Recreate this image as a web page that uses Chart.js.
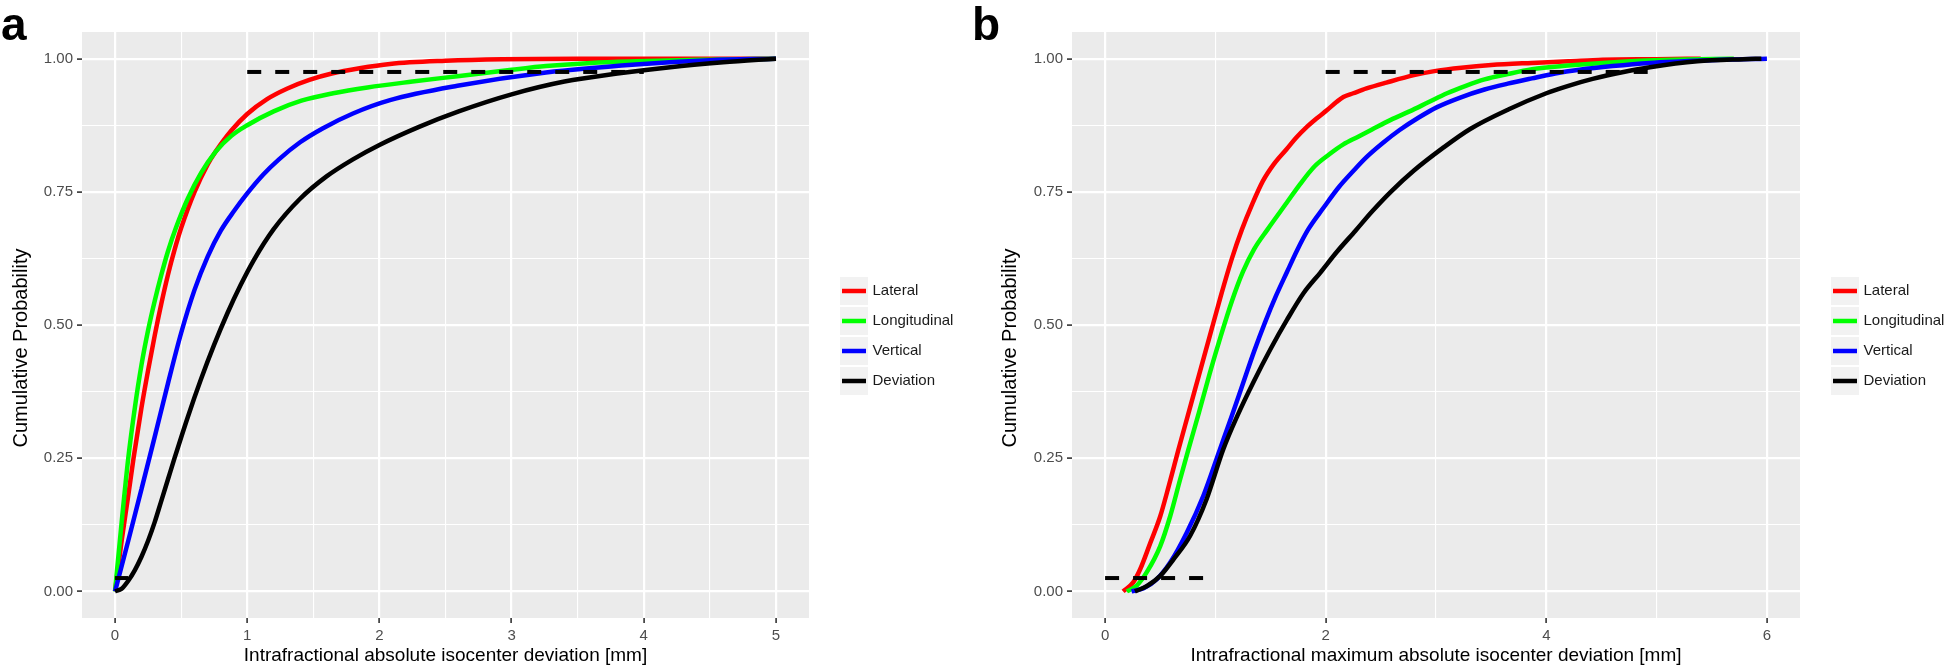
<!DOCTYPE html>
<html>
<head>
<meta charset="utf-8">
<script src="https://cdn.jsdelivr.net/npm/chart.js@4.4.1/dist/chart.umd.min.js"></script>
<style>
  html, body { margin: 0; padding: 0; background: #fff; }
  body { width: 1946px; height: 668px; position: relative; overflow: hidden; font-family: "Liberation Sans", Arial, sans-serif; }
  .panel { position: absolute; top: 0; height: 668px; }
  .tag { position: absolute; font-weight: bold; font-size: 46px; line-height: 1; color: #000; }
</style>
</head>
<body>
<div class="panel" style="left:0;width:960px"><canvas id="chartA"></canvas></div>
<div class="panel" style="left:960px;width:986px"><canvas id="chartB"></canvas></div>
<div class="tag" style="left:1px;top:1px">a</div>
<div class="tag" style="left:972px;top:1px">b</div>

<script>
const seriesNames = ["Lateral", "Longitudinal", "Vertical", "Deviation"];
const seriesColors = ["#ff0000", "#00ff00", "#0000ff", "#000000"];

// panel a - absolute deviation
const latA_x = [0, 0.05, 0.1, 0.14, 0.2, 0.25, 0.3, 0.35, 0.4, 0.45, 0.5, 0.6, 0.7, 0.76, 0.88, 1.0, 1.15, 1.3, 1.47, 1.64, 1.85, 2.08, 2.5, 2.93, 3.5, 5.0];
const latA_y = [0, 0.095, 0.18, 0.25, 0.345, 0.415, 0.48, 0.54, 0.594, 0.641, 0.682, 0.749, 0.801, 0.825, 0.865, 0.896, 0.924, 0.9435, 0.96, 0.972, 0.982, 0.99, 0.996, 0.999, 1, 1];
const lonA_x = [0, 0.05, 0.1, 0.15, 0.2, 0.25, 0.3, 0.35, 0.4, 0.46, 0.55, 0.65, 0.76, 0.88, 1.0, 1.2, 1.41, 1.65, 1.91, 2.25, 2.59, 3.0, 3.26, 3.6, 3.94, 4.5, 5.0];
const lonA_y = [0, 0.13, 0.25, 0.345, 0.425, 0.49, 0.545, 0.594, 0.638, 0.682, 0.737, 0.785, 0.825, 0.855, 0.875, 0.901, 0.921, 0.935, 0.946, 0.957, 0.967, 0.979, 0.986, 0.992, 0.995, 0.998, 1];
const verA_x = [0, 0.1, 0.2, 0.3, 0.4, 0.5, 0.6, 0.7, 0.8, 0.9, 1.0, 1.12, 1.24, 1.4, 1.57, 1.8, 2.08, 2.59, 3.26, 3.94, 4.5, 5.0];
const verA_y = [0, 0.095, 0.192, 0.29, 0.39, 0.485, 0.565, 0.628, 0.677, 0.714, 0.747, 0.782, 0.811, 0.843, 0.869, 0.897, 0.922, 0.949, 0.974, 0.989, 0.997, 1];
const devA_x = [0, 0.05, 0.1, 0.15, 0.2, 0.25, 0.3, 0.35, 0.4, 0.45, 0.55, 0.65, 0.75, 0.85, 0.95, 1.05, 1.2, 1.4, 1.6, 1.8, 2.0, 2.3, 2.6, 3.0, 3.4, 3.8, 4.2, 4.6, 5.0];
const devA_y = [0, 0.005, 0.02, 0.04, 0.065, 0.095, 0.13, 0.17, 0.21, 0.25, 0.327, 0.398, 0.463, 0.522, 0.575, 0.622, 0.68, 0.737, 0.779, 0.811, 0.838, 0.872, 0.901, 0.933, 0.957, 0.972, 0.984, 0.993, 1];
const refHiA_x = [1, 4];
const refLoA_x = [0, 0.1];

// panel b - maximum absolute deviation
const latB_x = [0.163, 0.255, 0.317, 0.41, 0.50, 0.58, 0.665, 0.75, 0.85, 0.95, 1.05, 1.15, 1.24, 1.33, 1.43, 1.53, 1.645, 1.73, 1.82, 1.92, 2.01, 2.1, 2.16, 2.25, 2.37, 2.55, 2.8, 3.0, 3.23, 3.5, 3.87, 4.2, 4.51, 5.0, 5.4];
const latB_y = [0, 0.017, 0.041, 0.091, 0.141, 0.20, 0.266, 0.33, 0.405, 0.48, 0.555, 0.625, 0.679, 0.725, 0.77, 0.802, 0.83, 0.851, 0.87, 0.888, 0.903, 0.919, 0.928, 0.935, 0.944, 0.955, 0.969, 0.977, 0.983, 0.988, 0.992, 0.995, 0.998, 0.999, 1];
const lonB_x = [0.197, 0.287, 0.378, 0.50, 0.59, 0.68, 0.755, 0.85, 0.95, 1.05, 1.15, 1.25, 1.35, 1.475, 1.645, 1.77, 1.90, 2.03, 2.16, 2.29, 2.42, 2.59, 2.76, 2.93, 3.10, 3.27, 3.44, 3.65, 3.87, 4.2, 4.51, 4.85, 5.15, 5.7];
const lonB_y = [0, 0.011, 0.036, 0.085, 0.141, 0.21, 0.266, 0.335, 0.41, 0.48, 0.545, 0.60, 0.642, 0.68, 0.729, 0.765, 0.798, 0.82, 0.839, 0.853, 0.867, 0.885, 0.901, 0.918, 0.935, 0.949, 0.961, 0.971, 0.98, 0.987, 0.992, 0.996, 0.998, 1];
const verB_x = [0.24, 0.35, 0.47, 0.59, 0.74, 0.89, 1.04, 1.15, 1.25, 1.35, 1.45, 1.55, 1.65, 1.74, 1.84, 1.98, 2.12, 2.25, 2.37, 2.52, 2.67, 2.84, 3.01, 3.22, 3.44, 3.65, 3.87, 4.08, 4.30, 4.6, 4.94, 5.25, 5.58, 6.0];
const verB_y = [0, 0.006, 0.023, 0.054, 0.11, 0.179, 0.266, 0.33, 0.39, 0.45, 0.505, 0.555, 0.60, 0.64, 0.679, 0.72, 0.759, 0.789, 0.815, 0.842, 0.866, 0.889, 0.909, 0.927, 0.942, 0.953, 0.963, 0.972, 0.979, 0.986, 0.992, 0.995, 0.998, 1];
const devB_x = [0.27, 0.38, 0.50, 0.62, 0.77, 0.92, 1.07, 1.2, 1.35, 1.5, 1.65, 1.8, 1.95, 2.1, 2.27, 2.42, 2.59, 2.80, 3.06, 3.31, 3.66, 4.0, 4.2, 4.42, 4.7, 4.94, 5.37, 5.79, 5.95];
const devB_y = [0, 0.01, 0.029, 0.06, 0.104, 0.173, 0.266, 0.33, 0.395, 0.455, 0.51, 0.56, 0.598, 0.637, 0.677, 0.713, 0.75, 0.79, 0.832, 0.868, 0.905, 0.935, 0.949, 0.962, 0.975, 0.984, 0.995, 0.999, 1];
const refHiB_x = [2, 4.95];
const refLoB_x = [0, 0.9];

const refHi_y = [0.975, 0.975];
const refLo_y = [0.025, 0.025];

// axes
const xMajorA = [0, 1, 2, 3, 4, 5];
const xMinorA = [0.5, 1.5, 2.5, 3.5, 4.5];
const xMajorB = [0, 2, 4, 6];
const xMinorB = [1, 3, 5];
const yMajor = [0, 0.25, 0.5, 0.75, 1];
const yMinor = [0.125, 0.375, 0.625, 0.875];

const FONT = '"Liberation Sans", Arial, sans-serif';

const pts = (xs, ys) => xs.map((x, i) => ({ x: x, y: ys[i] }));

const panelBg = {
  id: "panelBg",
  beforeDraw(chart) {
    const { ctx, chartArea: a } = chart;
    ctx.save();
    ctx.fillStyle = "#ebebeb";
    ctx.fillRect(a.left, a.top, a.right - a.left, a.bottom - a.top);
    ctx.restore();
  }
};

// rotated y title, drawn by hand so it can sit where ggplot put it
const yTitle = {
  id: "yTitle",
  afterDraw(chart, args, opts) {
    const ctx = chart.ctx;
    ctx.save();
    ctx.translate(opts.x, opts.y);
    ctx.rotate(-Math.PI / 2);
    ctx.fillStyle = "#000";
    ctx.font = "20px " + FONT;
    ctx.textAlign = "center";
    ctx.textBaseline = "middle";
    ctx.fillText("Cumulative Probability", 0, 0);
    ctx.restore();
  }
};

// ggplot style legend on the right
const ggLegend = {
  id: "ggLegend",
  afterDraw(chart) {
    const { ctx, chartArea } = chart;
    const x0 = chartArea.right + 31;
    const y0 = 276;
    ctx.save();
    seriesNames.forEach((name, i) => {
      const top = y0 + i * 30;
      ctx.fillStyle = "#f2f2f2";
      ctx.fillRect(x0, top + 1, 28, 28);
      ctx.strokeStyle = seriesColors[i];
      ctx.lineWidth = 4.5;
      ctx.beginPath();
      ctx.moveTo(x0 + 2, top + 15);
      ctx.lineTo(x0 + 26, top + 15);
      ctx.stroke();
      ctx.fillStyle = "#1a1a1a";
      ctx.font = "15px " + FONT;
      ctx.textBaseline = "middle";
      ctx.textAlign = "left";
      ctx.fillText(name, x0 + 32.5, top + 15);
    });
    ctx.restore();
  }
};

function grid(major) {
  return {
    color: "#ffffff",
    lineWidth: c => major.includes(c.tick.value) ? 2.2 : 1.1,
    tickColor: c => major.includes(c.tick.value) ? "#333333" : "rgba(0,0,0,0)",
    tickLength: 5,
    tickWidth: 1.6
  };
}

function makeChart(id, o) {
  const sets = [
    { data: pts(o.refHi, refHi_y), borderColor: "#000", borderWidth: 4, borderDash: [14, 14], order: 0 },
    { data: pts(o.refLo, refLo_y), borderColor: "#000", borderWidth: 4, borderDash: [14, 14], order: 0 }
  ];
  o.series.forEach((s, i) => {
    sets.push({
      label: seriesNames[i],
      data: pts(s[0], s[1]),
      borderColor: seriesColors[i],
      borderWidth: 4.5,
      cubicInterpolationMode: "monotone",
      order: 4 - i
    });
  });

  return new Chart(document.getElementById(id), {
    type: "line",
    data: { datasets: sets },
    options: {
      responsive: true,
      maintainAspectRatio: false,
      animation: false,
      devicePixelRatio: 1,
      events: [],
      elements: { point: { radius: 0 }, line: { borderJoinStyle: "round" } },
      layout: { padding: { left: o.padLeft, right: o.padRight, top: 32, bottom: 0 } },
      plugins: {
        legend: { display: false },
        tooltip: { enabled: false },
        yTitle: { x: o.titleX, y: 348 }
      },
      scales: {
        x: {
          type: "linear",
          min: o.xRange[0],
          max: o.xRange[1],
          afterBuildTicks: ax => { ax.ticks = o.xMajor.concat(o.xMinor).sort((a, b) => a - b).map(v => ({ value: v })); },
          afterFit: ax => { ax.height = 50; },
          border: { display: false },
          grid: grid(o.xMajor),
          ticks: {
            autoSkip: false,
            maxRotation: 0,
            padding: 4,
            color: "#4d4d4d",
            font: { family: FONT, size: 15 },
            callback: v => o.xMajor.includes(v) ? String(v) : ""
          },
          title: {
            display: true,
            text: o.xTitle,
            color: "#000",
            font: { family: FONT, size: 19 },
            padding: { top: 0, bottom: 1 }
          }
        },
        y: {
          type: "linear",
          min: -0.05,
          max: 1.05,
          afterBuildTicks: ax => { ax.ticks = yMajor.concat(yMinor).sort((a, b) => a - b).map(v => ({ value: v })); },
          afterFit: ax => { ax.width = o.yWidth; },
          border: { display: false },
          grid: grid(yMajor),
          ticks: {
            autoSkip: false,
            padding: 4,
            color: "#4d4d4d",
            font: { family: FONT, size: 15 },
            callback: v => yMajor.includes(v) ? v.toFixed(2) : ""
          },
          title: { display: false }
        }
      }
    },
    plugins: [panelBg, ggLegend, yTitle]
  });
}

makeChart("chartA", {
  series: [[latA_x, latA_y], [lonA_x, lonA_y], [verA_x, verA_y], [devA_x, devA_y]],
  refHi: refHiA_x,
  refLo: refLoA_x,
  xRange: [-0.25, 5.25],
  xMajor: xMajorA,
  xMinor: xMinorA,
  xTitle: "Intrafractional absolute isocenter deviation [mm]",
  padLeft: 0,
  padRight: 151,
  yWidth: 82,
  titleX: 21
});

makeChart("chartB", {
  series: [[latB_x, latB_y], [lonB_x, lonB_y], [verB_x, verB_y], [devB_x, devB_y]],
  refHi: refHiB_x,
  refLo: refLoB_x,
  xRange: [-0.3, 6.3],
  xMajor: xMajorB,
  xMinor: xMinorB,
  xTitle: "Intrafractional maximum absolute isocenter deviation [mm]",
  padLeft: 55,
  padRight: 146,
  yWidth: 57,
  titleX: 50
});
</script>
</body>
</html>
